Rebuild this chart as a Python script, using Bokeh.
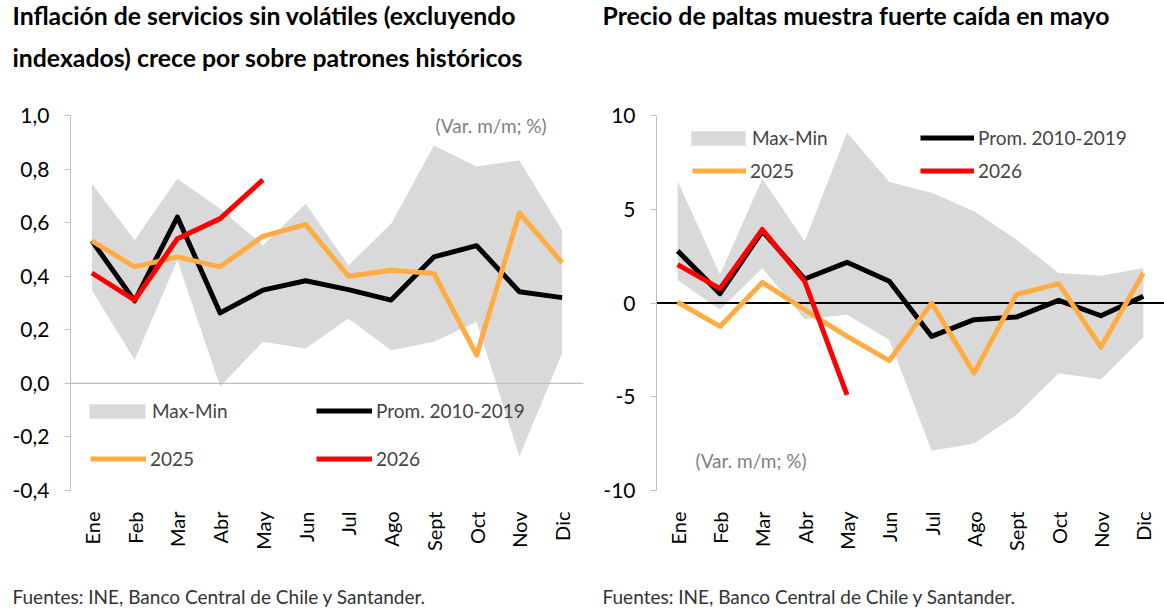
import math
from bokeh.plotting import figure
from bokeh.layouts import row, column
from bokeh.models import (FactorRange, Range1d, FixedTicker, CustomJSTickFormatter,
                          Span, Label, Legend, LegendItem)
from bokeh.embed import file_html
from bokeh.resources import INLINE

FONT = "Lato"
GRAY_BAND = "#D9D9D9"
ORANGE = "#FFAD42"
RED = "#FF0000"
W_LEFT, W_RIGHT = 600, 564

months = ["Ene", "Feb", "Mar", "Abr", "May", "Jun", "Jul", "Ago", "Sept", "Oct", "Nov", "Dic"]
months_2026 = months[:5]

# Inflacion de servicios sin volatiles (excl. indexados), var. m/m %
serv_max = [0.745, 0.534, 0.764, 0.652, 0.516, 0.671, 0.441, 0.596, 0.888, 0.81, 0.832, 0.571]
serv_min = [0.348, 0.087, 0.46, -0.012, 0.155, 0.13, 0.242, 0.124, 0.155, 0.23, -0.273, 0.112]
serv_prom = [0.532, 0.308, 0.621, 0.263, 0.348, 0.383, 0.35, 0.311, 0.472, 0.514, 0.342, 0.32]
serv_2025 = [0.532, 0.435, 0.472, 0.435, 0.549, 0.593, 0.40, 0.422, 0.41, 0.106, 0.636, 0.451]
serv_2026 = [0.412, 0.311, 0.54, 0.615, 0.76]
serv_ticks = [-0.4, -0.2, 0.0, 0.2, 0.4, 0.6, 0.8, 1.0]

# Precio de paltas, var. m/m %
pal_max = [6.5, 1.52, 6.63, 3.3, 9.09, 6.45, 5.88, 4.9, 3.39, 1.6, 1.46, 1.87]
pal_min = [1.21, -0.36, 1.87, -0.86, -0.62, -1.96, -7.88, -7.49, -5.97, -3.74, -4.06, -1.82]
pal_prom = [2.78, 0.5, 3.83, 1.28, 2.17, 1.16, -1.78, -0.89, -0.75, 0.14, -0.68, 0.36]
pal_2025 = [0.04, -1.25, 1.1, -0.36, -1.78, -3.07, 0.0, -3.74, 0.45, 1.03, -2.35, 1.6]
pal_2026 = [2.05, 0.77, 3.92, 1.16, -4.9]
pal_ticks = [-10, -5, 0, 5, 10]

left_title = ["Inflación de servicios sin volátiles (excluyendo",
              "indexados) crece por sobre patrones históricos"]
right_title = ["Precio de paltas muestra fuerte caída en mayo"]
FOOTER = "Fuentes: INE, Banco Central de Chile y Santander."
NOTE = "(Var. m/m; %)"


def text_strip(height):
    # blank figure used only to hold text (titles / source line)
    s = figure(width=W_LEFT + W_RIGHT, height=height, x_range=Range1d(0, 1), y_range=Range1d(0, 1),
               x_axis_type=None, y_axis_type=None, output_backend="svg", toolbar_location=None,
               min_border=0, title_location=None)
    s.grid.visible = False
    s.outline_line_color = None
    return s


def strip_text(s, x, y, text, size, color="black", style="normal"):
    s.add_layout(Label(x=x, y=y, x_units="screen", y_units="screen", text=text,
                       text_font=FONT, text_font_size=size, text_font_style=style,
                       text_color=color, text_baseline="middle", text_align="left"))


def add_legend(p, items, x, y, glyph_w, glyph_h, spacing, standoff):
    p.add_layout(Legend(items=[LegendItem(label=t, renderers=[r]) for t, r in items],
                        location=(int(x), int(y)), orientation="vertical",
                        glyph_width=int(glyph_w), glyph_height=int(glyph_h), spacing=int(spacing),
                        padding=0, margin=0, label_standoff=int(standoff),
                        border_line_color=None, background_fill_alpha=0,
                        label_text_font=FONT, label_text_font_size="19px"))


def make_chart(yr, ticks, decimals, hi, lo, prom, y25, y26, width, b_left, b_right,
               zero_color, zero_width, leg_x, leg_y, row_gap, glyph_w, note_x, note_y):
    p = figure(x_range=FactorRange(*months), y_range=Range1d(*yr), width=width, height=490,
               output_backend="svg", toolbar_location=None, title_location=None,
               min_border_left=b_left, min_border_right=b_right,
               min_border_top=35, min_border_bottom=80)
    p.grid.visible = False
    p.outline_line_color = None

    band = p.varea(x=months, y1=lo, y2=hi, fill_color=GRAY_BAND, level="image")
    p.add_layout(Span(location=0, dimension="width", line_color=zero_color,
                      line_width=zero_width, level="underlay"))
    r_prom = p.line(months, prom, line_color="black", line_width=5, line_join="round")
    r25 = p.line(months, y25, line_color=ORANGE, line_width=5, line_join="round")
    r26 = p.line(months_2026, y26, line_color=RED, line_width=5, line_join="round")

    # axes
    p.yaxis.ticker = FixedTicker(ticks=ticks)
    p.yaxis.formatter = CustomJSTickFormatter(
        code="return tick.toFixed(%d).replace('.', ',')" % decimals)
    p.yaxis.axis_line_color = "#BFBFBF"
    p.yaxis.major_tick_line_color = "#BFBFBF"
    p.yaxis.major_tick_out = 6
    p.yaxis.major_tick_in = 0
    p.yaxis.minor_tick_line_color = None
    p.yaxis.major_label_standoff = 15
    p.yaxis.major_label_text_font = FONT
    p.yaxis.major_label_text_font_size = "21px"
    p.yaxis.major_label_text_color = "black"

    p.xaxis.axis_line_color = None
    p.xaxis.major_tick_line_color = None
    p.xaxis.major_label_orientation = math.pi / 2
    p.xaxis.major_label_standoff = 15
    p.xaxis.major_label_text_font = FONT
    p.xaxis.major_label_text_font_size = "20px"
    p.xaxis.major_label_text_color = "black"

    # legends laid out as a 2x2 grid; the area swatch gets its own wider glyph box
    box_w = round(glyph_w * 1.25)
    add_legend(p, [("Max-Min", band)], leg_x[0] - (box_w - glyph_w) // 2 - 1,
               leg_y + row_gap, box_w, 18, 0, -3)
    add_legend(p, [("2025", r25)], leg_x[0], leg_y, glyph_w, 15, 0, 4)
    add_legend(p, [("Prom. 2010-2019", r_prom), ("2026", r26)], leg_x[1], leg_y,
               glyph_w, 15, row_gap - 23, 4)

    p.add_layout(Label(x=note_x, y=note_y, text=NOTE, text_color="#7F7F7F",
                       text_font=FONT, text_font_size="19px", text_baseline="middle"))
    return p


left = make_chart((-0.4, 1.0), serv_ticks, 1,
                  serv_max, serv_min, serv_prom, serv_2025, serv_2026,
                  W_LEFT, 70, 17, "#BFBFBF", 1.2, [20, 246], 20, 48, 56, 8.54, 0.964)

right = make_chart((-10, 10), pal_ticks, 0,
                   pal_max, pal_min, pal_prom, pal_2025, pal_2026,
                   W_RIGHT, 52, 0, "black", 1.8, [36, 264], 308, 33, 54, 0.92, -8.4)

top = text_strip(80)
for i, t in enumerate(left_title):
    strip_text(top, 12, 65 - 42 * i, t, "24.8px", style="bold")
for i, t in enumerate(right_title):
    strip_text(top, 602, 65 - 42 * i, t, "24.8px", style="bold")

bottom = text_strip(41)
strip_text(bottom, 12, 15, FOOTER, "19px", color="#333333")
strip_text(bottom, 602, 15, FOOTER, "19px", color="#333333")

layout = column(top, row(left, right), bottom)
open("out.html", "w").write(file_html(layout, INLINE))
